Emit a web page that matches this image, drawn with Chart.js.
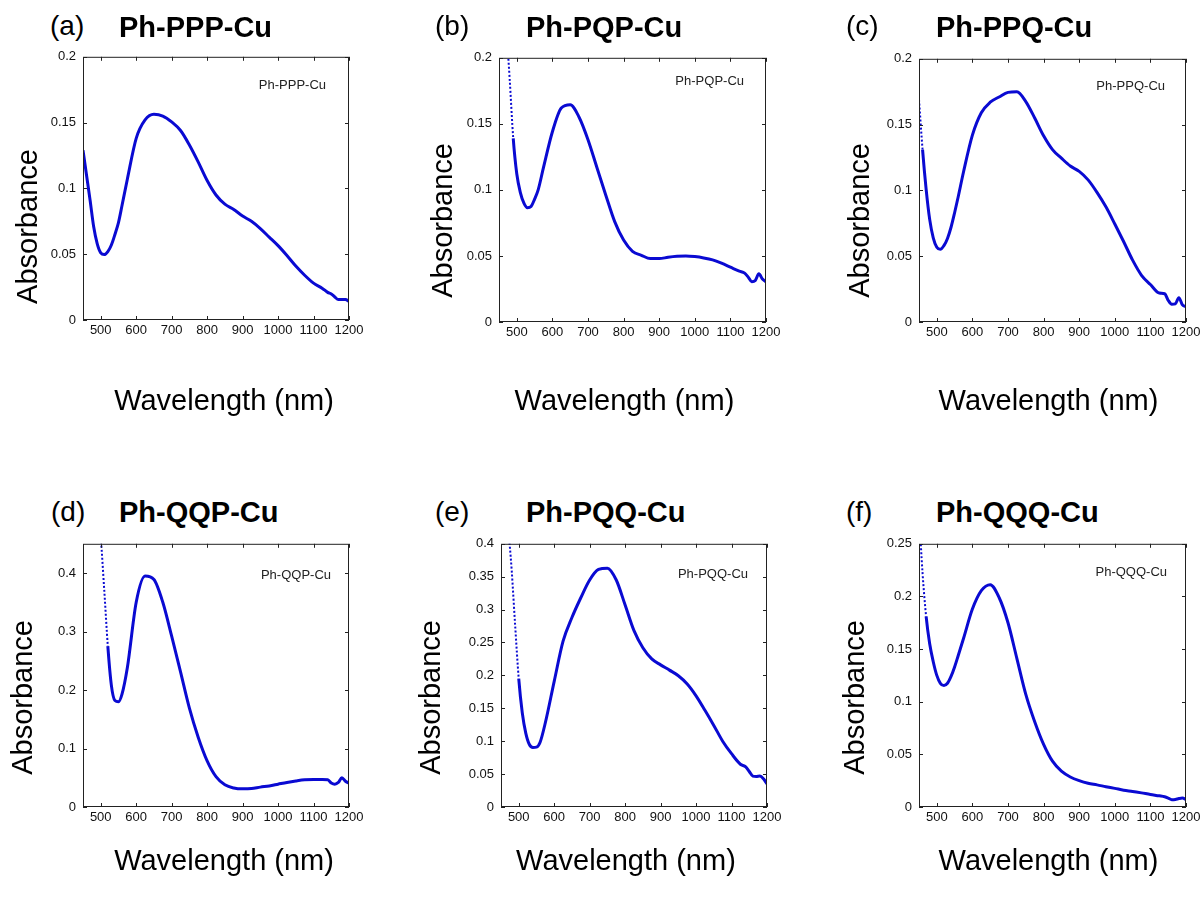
<!DOCTYPE html>
<html>
<head>
<meta charset="utf-8">
<title>Absorption spectra</title>
<script src="https://cdn.jsdelivr.net/npm/chart.js@4.4.1/dist/chart.umd.min.js"></script>
<style>
  html, body { margin: 0; padding: 0; background: #fff; }
  body { position: relative; width: 1200px; height: 902px; overflow: hidden;
         font-family: "Liberation Sans", Arial, Helvetica, sans-serif; color: #000; }
  canvas { position: absolute; }
  .tag, .name { position: absolute; line-height: 1; white-space: nowrap; }
  .tag { font-size: 28px; }
  .name { font-size: 29px; font-weight: bold; }
</style>
</head>
<body>
<script>
Chart.defaults.font.family = '"Liberation Sans", Arial, Helvetica, sans-serif';
Chart.defaults.color = '#111';

// wavelength grid (nm) shared by all spectra
var wavelength = [450, 460, 470, 480, 490, 500, 510, 520, 530, 540, 550, 560, 575, 600, 625, 650, 675, 700, 725, 750,
                  775, 800, 825, 850, 875, 900, 925, 950, 975, 1000, 1025, 1050, 1075, 1100, 1125, 1140, 1150, 1160, 1170, 1180, 1190, 1200];

// absorbance
var absPPP = [0.129, 0.110, 0.091, 0.071, 0.058, 0.051, 0.0497, 0.052, 0.057, 0.065, 0.074, 0.087, 0.107, 0.138, 0.152, 0.1563, 0.155, 0.1505, 0.144, 0.133,
              0.120, 0.106, 0.095, 0.088, 0.084, 0.079, 0.075, 0.0695, 0.063, 0.0565, 0.049, 0.041, 0.034, 0.028, 0.024, 0.021, 0.0198, 0.0175, 0.0155, 0.0156, 0.0155, 0.0143];
var absPQP = [0.32, 0.27, 0.225, 0.184, 0.139, 0.112, 0.098, 0.090, 0.0865, 0.0875, 0.093, 0.100, 0.117, 0.144, 0.162, 0.1645, 0.155, 0.138, 0.117, 0.096,
              0.076, 0.062, 0.0535, 0.0505, 0.048, 0.048, 0.049, 0.0497, 0.050, 0.0495, 0.0485, 0.047, 0.0445, 0.0415, 0.0385, 0.037, 0.034, 0.0305, 0.0315, 0.0365, 0.0325, 0.0305];
var absPPQ = [0.169, 0.131, 0.101, 0.078, 0.064, 0.0568, 0.0552, 0.058, 0.0635, 0.072, 0.083, 0.095, 0.114, 0.142, 0.159, 0.167, 0.171, 0.1745, 0.175, 0.1675,
              0.155, 0.1415, 0.131, 0.1245, 0.1185, 0.1145, 0.108, 0.0985, 0.0875, 0.0745, 0.061, 0.047, 0.0355, 0.0285, 0.022, 0.0215, 0.0165, 0.0135, 0.0138, 0.0185, 0.013, 0.0118];
var absQQP = [0.80, 0.72, 0.64, 0.57, 0.51, 0.46, 0.37, 0.275, 0.208, 0.182, 0.180, 0.193, 0.238, 0.350, 0.395, 0.389, 0.350, 0.292, 0.231, 0.169,
              0.119, 0.079, 0.052, 0.038, 0.0325, 0.031, 0.0315, 0.034, 0.036, 0.039, 0.042, 0.0445, 0.0465, 0.047, 0.047, 0.0465, 0.041, 0.039, 0.042, 0.050, 0.044, 0.0405];
var absPQQ = [0.62, 0.52, 0.43, 0.361, 0.275, 0.195, 0.143, 0.112, 0.095, 0.0905, 0.091, 0.098, 0.128, 0.191, 0.252, 0.288, 0.318, 0.345, 0.361, 0.363,
              0.345, 0.307, 0.268, 0.242, 0.225, 0.216, 0.208, 0.1995, 0.187, 0.169, 0.147, 0.124, 0.100, 0.081, 0.065, 0.061, 0.054, 0.047, 0.0465, 0.047, 0.043, 0.0351];
var absQQQ = [0.28, 0.222, 0.181, 0.155, 0.138, 0.125, 0.1175, 0.1154, 0.1175, 0.124, 0.133, 0.1437, 0.160, 0.188, 0.2055, 0.2112, 0.199, 0.175, 0.141, 0.107,
              0.081, 0.0595, 0.0435, 0.034, 0.0285, 0.025, 0.0225, 0.021, 0.0193, 0.0177, 0.016, 0.0148, 0.0134, 0.0119, 0.0106, 0.0097, 0.0085, 0.007, 0.0072, 0.008, 0.0085, 0.0072];

// tick values
var xTicks = [500, 600, 700, 800, 900, 1000, 1100, 1200];
var yTicks020 = [0, 0.05, 0.1, 0.15, 0.2];
var yTicksQQP = [0, 0.1, 0.2, 0.3, 0.4];
var yTicksPQQ = [0, 0.05, 0.1, 0.15, 0.2, 0.25, 0.3, 0.35, 0.4];
var yTicksQQQ = [0, 0.05, 0.1, 0.15, 0.2, 0.25];

// panel layout: plot box [left, top, right, bottom] in page pixels
// xShift: spaces before (+) or after (-) the x title to nudge it sideways
var panels = [
  { tag: '(a)', name: 'Ph-PPP-Cu', values: absPPP, yMax: 0.2, yTicks: yTicks020, box: [83, 54, 349, 320],
    xTitleBase: 412, xShift: 2, yGap: 44, ySpaces: 2, label: [23, 32], tagX: 50, nameX: 119, tagBase: 36, nameBase: 38 },
  { tag: '(b)', name: 'Ph-PQP-Cu', values: absPQP, yMax: 0.2, yTicks: yTicks020, box: [499, 55, 766, 322],
    xTitleBase: 412, xShift: -2, yGap: 45, ySpaces: 3, label: [22, 27], tagX: 435, nameX: 526, tagBase: 36, nameBase: 38 },
  { tag: '(c)', name: 'Ph-PPQ-Cu', values: absPPQ, yMax: 0.2, yTicks: yTicks020, box: [919, 56, 1186, 322],
    xTitleBase: 412, xShift: -1, yGap: 48, ySpaces: 3, label: [21, 31], tagX: 846, nameX: 936, tagBase: 36, nameBase: 38 },
  { tag: '(d)', name: 'Ph-QQP-Cu', values: absQQP, yMax: 0.45, yTicks: yTicksQQP, box: [83, 541, 349, 807],
    xTitleBase: 872, xShift: 2, yGap: 49, ySpaces: 4, label: [18, 35], tagX: 51, nameX: 119, tagBase: 522, nameBase: 523 },
  { tag: '(e)', name: 'Ph-PQQ-Cu', values: absPQQ, yMax: 0.4, yTicks: yTicksPQQ, box: [501, 541, 767, 807],
    xTitleBase: 872, xShift: -2, yGap: 59, ySpaces: 4, label: [19, 34], tagX: 435, nameX: 526, tagBase: 522, nameBase: 523 },
  { tag: '(f)', name: 'Ph-QQQ-Cu', values: absQQQ, yMax: 0.25, yTicks: yTicksQQQ, box: [919, 541, 1186, 807],
    xTitleBase: 872, xShift: -1, yGap: 53, ySpaces: 4, label: [19, 32], tagX: 846, nameX: 936, tagBase: 522, nameBase: 523 }
];

// box around the plot with inward ticks on all four sides
var frameTicks = {
  id: 'frameTicks',
  afterDatasetsDraw: function (chart) {
    var ctx = chart.ctx, a = chart.chartArea, sx = chart.scales.x, sy = chart.scales.y;
    ctx.save();
    ctx.strokeStyle = '#222';
    ctx.lineWidth = 1;
    ctx.beginPath();
    sx.ticks.forEach(function (t) {
      var px = Math.round(sx.getPixelForValue(t.value)) + 0.5;
      ctx.moveTo(px, a.bottom); ctx.lineTo(px, a.bottom - 4);
      ctx.moveTo(px, a.top); ctx.lineTo(px, a.top + 4);
    });
    sy.ticks.forEach(function (t) {
      var py = Math.round(sy.getPixelForValue(t.value)) + 0.5;
      ctx.moveTo(a.left, py); ctx.lineTo(a.left + 4, py);
      ctx.moveTo(a.right, py); ctx.lineTo(a.right - 4, py);
    });
    ctx.stroke();
    ctx.strokeRect(a.left + 0.5, a.top + 0.5, a.right - a.left - 1, a.bottom - a.top - 1);
    ctx.restore();
  }
};

// series name written in the upper right corner of the plot
var insideLabel = {
  id: 'insideLabel',
  afterDatasetsDraw: function (chart, args, opts) {
    var ctx = chart.ctx, a = chart.chartArea;
    ctx.save();
    ctx.font = '13px "Liberation Sans", Arial, sans-serif';
    ctx.fillStyle = '#222';
    ctx.textAlign = 'right';
    ctx.textBaseline = 'alphabetic';
    ctx.fillText(chart.data.datasets[0].label, a.right - opts.right, a.top + opts.base);
    ctx.restore();
  }
};

function steep(c) {
  return Math.abs(c.p1.y - c.p0.y) > 12 * Math.abs(c.p1.x - c.p0.x);
}

function addText(cls, text, x, base, size) {
  var d = document.createElement('div');
  d.className = cls;
  d.textContent = text;
  d.style.left = x + 'px';
  d.style.top = (base - 0.8465 * size) + 'px';
  document.body.appendChild(d);
}

panels.forEach(function (p) {
  var L = p.box[0], T = p.box[1], R = p.box[2], B = p.box[3];
  var left = L - 90, top = T - 12;
  var width = R - L + 120;
  var bottom = Math.round(p.xTitleBase - 10 + 17.4);
  var height = bottom - top;
  var xh = bottom - B;

  var cv = document.createElement('canvas');
  cv.width = width;
  cv.height = height;
  cv.style.left = left + 'px';
  cv.style.top = top + 'px';
  cv.style.width = width + 'px';
  cv.style.height = height + 'px';
  document.body.appendChild(cv);

  addText('tag', p.tag, p.tagX, p.tagBase, 28);
  addText('name', p.name, p.nameX, p.nameBase, 29);

  var xTitle = 'Wavelength (nm)';
  if (p.xShift > 0) xTitle = ' '.repeat(p.xShift) + xTitle;
  if (p.xShift < 0) xTitle = xTitle + ' '.repeat(-p.xShift);

  var yTickList = p.yTicks;
  new Chart(cv, {
    type: 'line',
    data: {
      datasets: [{
        label: p.name,
        data: wavelength.map(function (w, i) { return { x: w, y: p.values[i] }; }),
        borderColor: '#0a0ad2',
        borderWidth: 3,
        pointRadius: 0,
        fill: false,
        cubicInterpolationMode: 'monotone',
        clip: 0,
        segment: {
          borderDash: function (c) { return steep(c) ? [2, 2] : undefined; },
          borderWidth: function (c) { return steep(c) ? 2 : undefined; }
        }
      }]
    },
    options: {
      responsive: false,
      animation: false,
      events: [],
      layout: { padding: { left: 0, top: 12, right: 30, bottom: 0 } },
      plugins: {
        legend: { display: false },
        tooltip: { enabled: false },
        insideLabel: { right: p.label[0], base: p.label[1] }
      },
      scales: {
        x: {
          type: 'linear',
          min: 450,
          max: 1200,
          grid: { display: false, drawTicks: false },
          border: { display: false },
          ticks: { autoSkip: false, maxRotation: 0, padding: 3, color: '#111', font: { size: 13 },
                   callback: function (v) { return String(v); } },
          afterBuildTicks: function (s) { s.ticks = xTicks.map(function (v) { return { value: v }; }); },
          afterFit: function (s) { s.height = xh; },
          title: { display: true, text: xTitle, color: '#000', font: { size: 29 }, padding: 0 }
        },
        y: {
          type: 'linear',
          min: 0,
          max: p.yMax,
          grid: { display: false, drawTicks: false },
          border: { display: false },
          ticks: { autoSkip: false, padding: 7, color: '#111', font: { size: 13 },
                   callback: function (v) { return String(v); } },
          afterBuildTicks: function (s) { s.ticks = yTickList.map(function (v) { return { value: v }; }); },
          afterFit: function (s) { s.width = 90; },
          title: { display: true, text: ' '.repeat(p.ySpaces) + 'Absorbance', align: 'start', color: '#000',
                   font: { size: 29 }, padding: { top: 62.6 - p.yGap, bottom: 0 } }
        }
      }
    },
    plugins: [frameTicks, insideLabel]
  });
});
</script>
</body>
</html>
